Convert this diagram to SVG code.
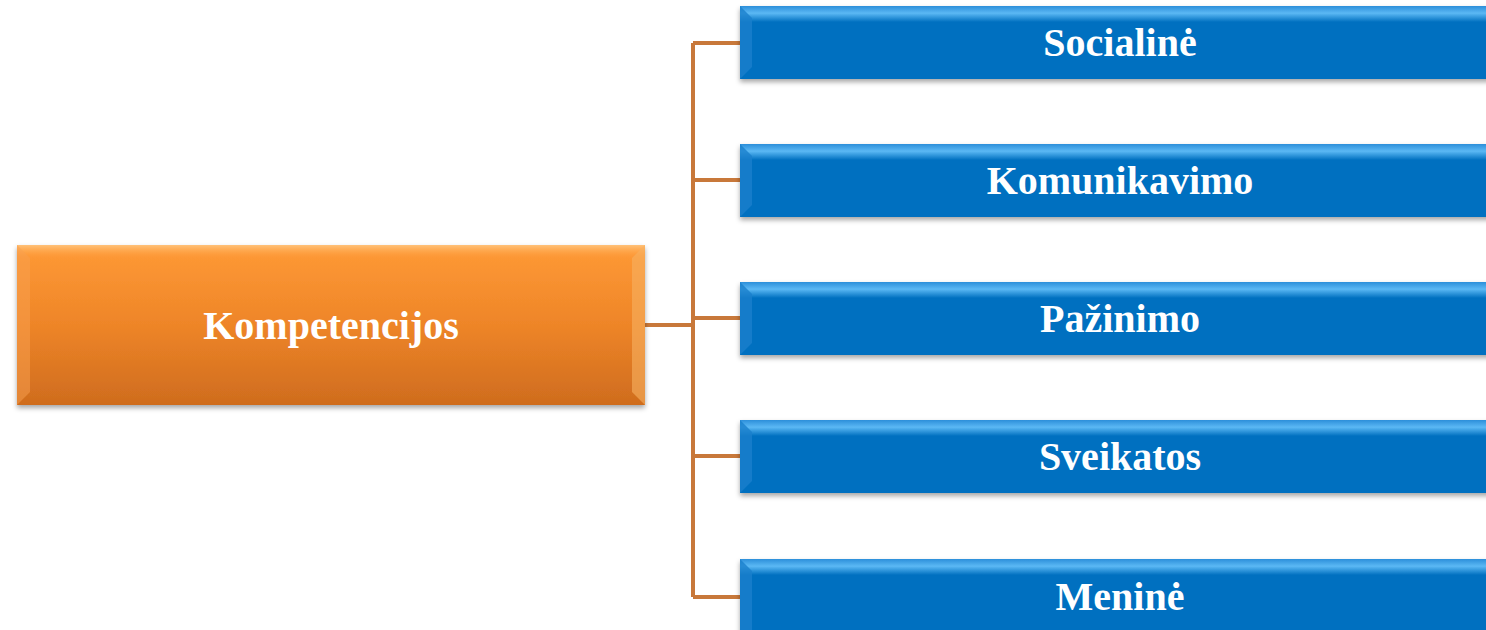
<svg xmlns="http://www.w3.org/2000/svg" width="1486" height="630" viewBox="0 0 1486 630">
<defs>
<linearGradient id="og" x1="0" y1="0" x2="0" y2="1">
<stop offset="0" stop-color="#FF9A36"/>
<stop offset="0.5" stop-color="#EE8528"/>
<stop offset="1" stop-color="#CF6C1E"/>
</linearGradient>
<linearGradient id="otop" x1="0" y1="0" x2="0" y2="1">
<stop offset="0" stop-color="#FFC27A"/>
<stop offset="1" stop-color="#FF9A36" stop-opacity="0"/>
</linearGradient>
<linearGradient id="btop" x1="0" y1="0" x2="0" y2="1">
<stop offset="0" stop-color="#2C8FDA"/>
<stop offset="0.45" stop-color="#5BB8F4"/>
<stop offset="1" stop-color="#0070C0"/>
</linearGradient>
<filter id="sh" x="-5%" y="-10%" width="110%" height="130%">
<feDropShadow dx="0" dy="3" stdDeviation="2.5" flood-color="#000" flood-opacity="0.35"/>
</filter>
<style>
.blue{fill:#0070C0;filter:url(#sh)}
.lbl{font-family:"Liberation Serif","Times New Roman",serif;font-weight:bold;font-size:40px;fill:#fff;text-anchor:middle}
.con{fill:none;stroke:#C8783A;stroke-width:4}
</style>
</defs>
<rect width="1486" height="630" fill="#fff"/>
<g id="connectors">
<path class="con" d="M645 325 H693 M693 43 V597 M693 43 H742 M693 180 H742 M693 318 H742 M693 456 H742 M693 597 H742"/>
</g>
<g id="node-kompetencijos">
<rect x="17" y="245" width="628" height="160" fill="url(#og)" filter="url(#sh)"/>
<rect x="17" y="245" width="628" height="14" fill="url(#otop)"/>
<path d="M17 245 L30 258 L30 392 L17 405 Z" fill="#F7A050" opacity="0.5"/>
<path d="M645 245 L632 258 L632 392 L645 405 Z" fill="#F7B060" opacity="0.6"/>
<text class="lbl" x="331" y="339" font-size="42">Kompetencijos</text>
</g>
<g id="node-socialine">
<rect class="blue" x="740" y="6" width="760" height="73"/>
<rect x="740" y="6" width="760" height="16" fill="url(#btop)"/>
<path d="M740 6 L752 18 L752 67 L740 79 Z" fill="#1a80cc" opacity="0.8"/>
<text class="lbl" x="1120" y="56">Socialinė</text>
</g>
<g id="node-komunikavimo">
<rect class="blue" x="740" y="144" width="760" height="73"/>
<rect x="740" y="144" width="760" height="16" fill="url(#btop)"/>
<path d="M740 144 L752 156 L752 205 L740 217 Z" fill="#1a80cc" opacity="0.8"/>
<text class="lbl" x="1120" y="194">Komunikavimo</text>
</g>
<g id="node-pazinimo">
<rect class="blue" x="740" y="282" width="760" height="73"/>
<rect x="740" y="282" width="760" height="16" fill="url(#btop)"/>
<path d="M740 282 L752 294 L752 343 L740 355 Z" fill="#1a80cc" opacity="0.8"/>
<text class="lbl" x="1120" y="332">Pažinimo</text>
</g>
<g id="node-sveikatos">
<rect class="blue" x="740" y="420" width="760" height="73"/>
<rect x="740" y="420" width="760" height="16" fill="url(#btop)"/>
<path d="M740 420 L752 432 L752 481 L740 493 Z" fill="#1a80cc" opacity="0.8"/>
<text class="lbl" x="1120" y="470">Sveikatos</text>
</g>
<g id="node-menine">
<rect class="blue" x="740" y="559" width="760" height="80"/>
<rect x="740" y="559" width="760" height="16" fill="url(#btop)"/>
<path d="M740 559 L752 571 L752 640 L740 640 Z" fill="#1a80cc" opacity="0.8"/>
<text class="lbl" x="1120" y="610">Meninė</text>
</g>
</svg>
